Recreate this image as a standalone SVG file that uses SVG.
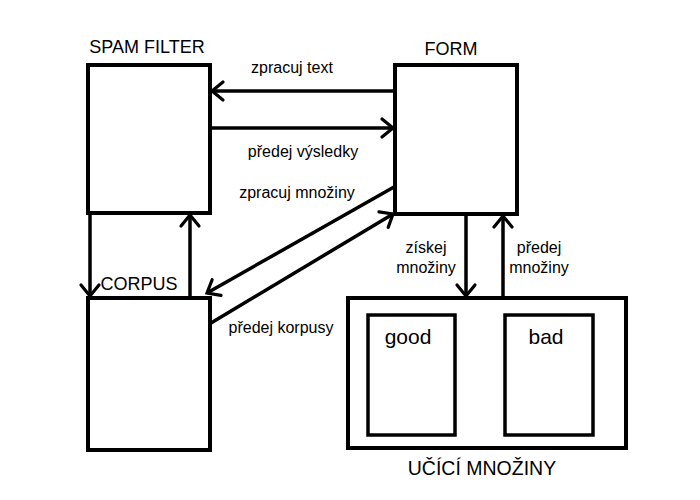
<svg xmlns="http://www.w3.org/2000/svg" width="700" height="500" viewBox="0 0 700 500">
<style>
.box{fill:#fff;stroke:#000;stroke-width:4}
.inner{fill:#fff;stroke:#000;stroke-width:3.5}
.c{fill:none;stroke:#000;stroke-width:3.5}
.t{font-family:"Liberation Sans",Arial,sans-serif;fill:#000}
.lbl{font-size:16px}
.big{font-size:18px}
.huge{font-size:21px}
</style>
<defs>
<marker id="ah" markerUnits="userSpaceOnUse" markerWidth="30" markerHeight="30" refX="15" refY="15" orient="auto">
<path d="M4,6 L15,15 L4,24" fill="none" stroke="#000" stroke-width="3.2" stroke-linecap="round"/>
</marker>
</defs>
<rect width="700" height="500" fill="#fff"/>
<g id="connectors">
<line class="c" x1="395" y1="91" x2="212" y2="91" marker-end="url(#ah)"/>
<line class="c" x1="210" y1="128" x2="393" y2="128" marker-end="url(#ah)"/>
<line class="c" x1="90" y1="213" x2="90" y2="296" marker-end="url(#ah)"/>
<line class="c" x1="190" y1="298" x2="190" y2="215" marker-end="url(#ah)"/>
<line class="c" x1="394" y1="187" x2="207" y2="293" marker-end="url(#ah)"/>
<line class="c" x1="211" y1="323" x2="393" y2="214" marker-end="url(#ah)"/>
<line class="c" x1="466" y1="214" x2="466" y2="296" marker-end="url(#ah)"/>
<line class="c" x1="503" y1="298" x2="503" y2="216" marker-end="url(#ah)"/>
<text class="t lbl" x="292" y="73" text-anchor="middle">zpracuj text</text>
<text class="t lbl" x="303" y="157" text-anchor="middle">předej výsledky</text>
<text class="t lbl" x="297" y="198" text-anchor="middle">zpracuj množiny</text>
<text class="t lbl" x="281" y="333" text-anchor="middle">předej korpusy</text>
<text class="t lbl" x="426" y="253" text-anchor="middle">získej</text>
<text class="t lbl" x="426" y="273" text-anchor="middle">množiny</text>
<text class="t lbl" x="539" y="253" text-anchor="middle">předej</text>
<text class="t lbl" x="539" y="273" text-anchor="middle">množiny</text>
</g>
<g id="spam-filter">
<rect class="box" x="88" y="65" width="122" height="148"/>
<text class="t big" x="147" y="53" text-anchor="middle">SPAM FILTER</text>
</g>
<g id="form">
<rect class="box" x="395" y="65" width="122" height="149"/>
<text class="t big" x="451" y="55" text-anchor="middle">FORM</text>
</g>
<g id="corpus">
<rect class="box" x="88" y="298" width="122" height="152"/>
<text class="t big" x="139" y="290" text-anchor="middle">CORPUS</text>
</g>
<g id="ucici-mnoziny">
<rect class="box" x="348" y="298" width="278" height="150"/>
<text class="t" x="482" y="475" text-anchor="middle" font-size="19.5">UČÍCÍ MNOŽINY</text>
</g>
<g id="good">
<rect class="inner" x="368" y="315" width="87" height="120"/>
<text class="t huge" x="408" y="344" text-anchor="middle">good</text>
</g>
<g id="bad">
<rect class="inner" x="505" y="315" width="88" height="120"/>
<text class="t huge" x="546" y="344" text-anchor="middle">bad</text>
</g>
</svg>
